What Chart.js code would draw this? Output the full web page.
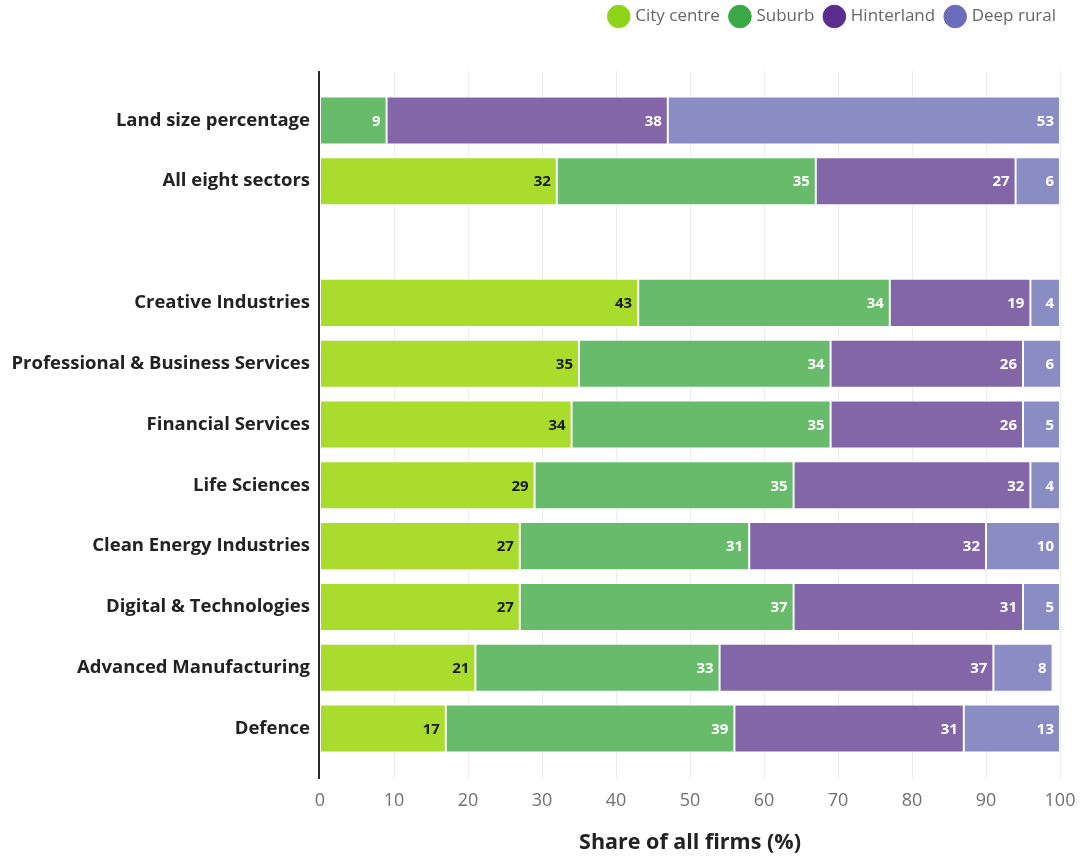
<!DOCTYPE html>
<html>
<head>
<meta charset="utf-8">
<script src="https://cdn.jsdelivr.net/npm/chart.js@4.4.1/dist/chart.umd.min.js"></script>
<style>
  html, body { margin: 0; padding: 0; background: #fff; }
  #wrap { width: 1082px; height: 858px; position: relative; }
</style>
</head>
<body>
<div id="wrap"><canvas id="chart" width="1082" height="858"></canvas></div>
<script>
// Share of firms by location type, per sector (%)
const categories = [
  'Land size percentage',
  'All eight sectors',
  '',
  'Creative Industries',
  'Professional & Business Services',
  'Financial Services',
  'Life Sciences',
  'Clean Energy Industries',
  'Digital & Technologies',
  'Advanced Manufacturing',
  'Defence'
];
const seriesNames = ['City centre', 'Suburb', 'Hinterland', 'Deep rural'];
const cityCentre = [0, 32, null, 43, 35, 34, 29, 27, 27, 21, 17];
const suburb     = [9, 35, null, 34, 34, 35, 35, 31, 37, 33, 39];
const hinterland = [38, 27, null, 19, 26, 26, 32, 32, 31, 37, 31];
const deepRural  = [53, 6, null, 4, 6, 5, 4, 10, 5, 8, 13];
const xTicks = [0, 10, 20, 30, 40, 50, 60, 70, 80, 90, 100];

const barColors    = ['#a9dc2c', '#67bb6b', '#8266a8', '#8a8cc4'];
const legendColors = ['#8fd419', '#3aa846', '#5b2d8e', '#6b6cbc'];
const labelColors  = ['#1a1a1a', '#ffffff', '#ffffff', '#ffffff'];
const FONT = '"Open Sans", Lato, sans-serif';

// Value labels at the inner end of each segment
const valueLabels = {
  id: 'valueLabels',
  afterDatasetsDraw(chart) {
    const ctx = chart.ctx;
    ctx.save();
    ctx.font = 'bold 15px ' + FONT;
    ctx.textAlign = 'right';
    ctx.textBaseline = 'middle';
    chart.data.datasets.forEach((ds, di) => {
      const meta = chart.getDatasetMeta(di);
      meta.data.forEach((el, i) => {
        const v = ds.data[i];
        if (v == null || v === 0) return;
        ctx.fillStyle = labelColors[di];
        ctx.fillText(String(v), Math.min(el.x, chart.chartArea.right) - 6, el.y + 1);
      });
    });
    ctx.restore();
  }
};

// Faint vertical gridlines and the dark left axis line
const frame = {
  id: 'frame',
  beforeDatasetsDraw(chart) {
    const { ctx, chartArea, scales } = chart;
    const top = chartArea.top - 19, bottom = chartArea.bottom + 20;
    ctx.save();
    ctx.strokeStyle = '#ececec';
    ctx.lineWidth = 1;
    xTicks.forEach(t => {
      if (t === 0) return;
      const x = Math.round(scales.x.getPixelForValue(t)) + 0.5;
      ctx.beginPath();
      ctx.moveTo(x, top);
      ctx.lineTo(x, bottom);
      ctx.stroke();
    });
    ctx.restore();
  },
  afterDatasetsDraw(chart) {
    const { ctx, chartArea, scales } = chart;
    const top = chartArea.top - 19, bottom = chartArea.bottom + 20;
    ctx.save();
    ctx.strokeStyle = '#2a2a2a';
    ctx.lineWidth = 2;
    const x = scales.x.getPixelForValue(0) - 1;
    ctx.beginPath();
    ctx.moveTo(x, top);
    ctx.lineTo(x, bottom);
    ctx.stroke();
    ctx.restore();
  }
};

// Extra room between the legend and the plot, and a nudge of the legend row
const legendGap = {
  id: 'legendGap',
  beforeInit(chart) {
    const fit = chart.legend.fit;
    chart.legend.fit = function () {
      fit.call(this);
      this.height += 51;
    };
  },
  afterLayout(chart) {
    const lg = chart.legend;
    lg.left += 8;
    lg.right += 8;
    lg.top -= 4;
  }
};

const seriesData = [cityCentre, suburb, hinterland, deepRural];

new Chart(document.getElementById('chart'), {
  type: 'bar',
  data: {
    labels: categories,
    datasets: seriesNames.map((name, i) => ({
      label: name,
      data: seriesData[i],
      backgroundColor: barColors[i],
      borderColor: 'rgba(255,255,255,0.85)',
      borderWidth: 1,
      borderSkipped: false,
      barPercentage: 0.79,
      categoryPercentage: 1.0
    }))
  },
  options: {
    indexAxis: 'y',
    responsive: false,
    animation: false,
    layout: { padding: { top: 0, right: 22, left: 0, bottom: 0 } },
    plugins: {
      legend: {
        position: 'top',
        align: 'end',
        labels: {
          usePointStyle: true,
          pointStyle: 'circle',
          boxWidth: 16,
          boxHeight: 16,
          padding: 12,
          color: '#666',
          font: { family: FONT, size: 17 },
          generateLabels(chart) {
            return chart.data.datasets.map((ds, i) => ({
              text: ds.label,
              fillStyle: legendColors[i],
              strokeStyle: legendColors[i],
              lineWidth: 1,
              pointStyle: 'circle',
              hidden: false,
              datasetIndex: i,
              fontColor: '#666'
            }));
          }
        }
      },
      tooltip: { enabled: false }
    },
    scales: {
      x: {
        stacked: true,
        min: 0,
        max: 100,
        afterBuildTicks(scale) { scale.ticks = xTicks.map(v => ({ value: v })); },
        afterFit(scale) { scale.height = 99; scale.paddingRight = 0; },
        grid: { display: false, drawTicks: false },
        border: { display: false },
        ticks: {
          padding: 31,
          color: '#707070',
          font: { family: FONT, size: 18 }
        },
        title: {
          display: true,
          text: 'Share of all firms (%)',
          color: '#222',
          font: { family: FONT, size: 21.5, weight: 'bold' },
          padding: { top: 0, bottom: 2 }
        }
      },
      y: {
        stacked: true,
        afterFit(scale) { scale.width = 320; },
        grid: { display: false, drawTicks: false },
        border: { display: false },
        ticks: {
          padding: 10,
          color: '#222',
          font: { family: FONT, size: 18.5, weight: 'bold' }
        }
      }
    }
  },
  plugins: [legendGap, frame, valueLabels]
});
</script>
</body>
</html>
